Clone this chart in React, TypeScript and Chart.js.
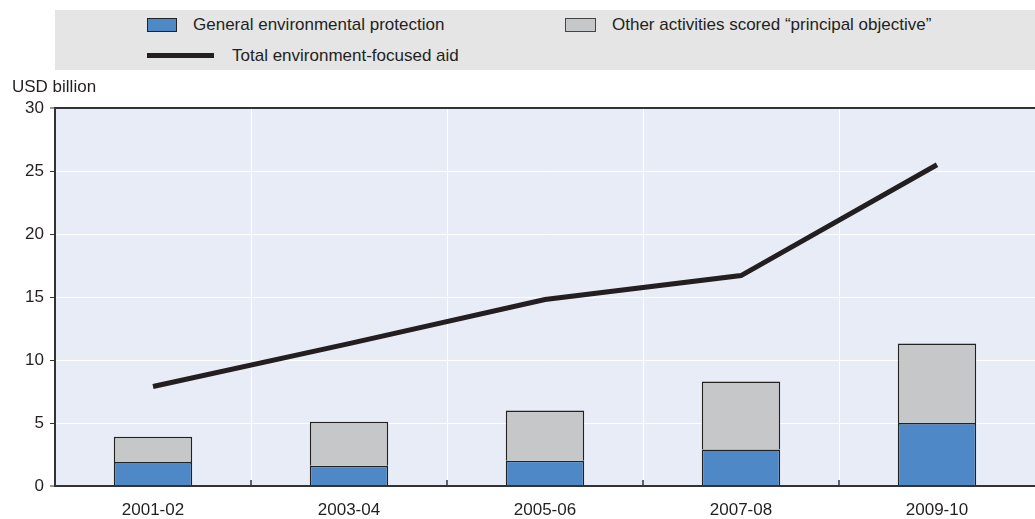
import React, { useEffect, useRef } from "react";
import { Chart, registerables } from "chart.js";

Chart.register(...registerables);

const categories = ["2001-02", "2003-04", "2005-06", "2007-08", "2009-10"];
const generalProtection = [1.9, 1.6, 2.0, 2.9, 5.0];
const otherPrincipal = [2.0, 3.5, 4.0, 5.4, 6.3];
const totalAid = [7.9, 11.3, 14.8, 16.7, 25.5];
const yMin = 0;
const yMax = 30;
const yStep = 5;

const labelGeneral = "General environmental protection";
const labelOther = "Other activities scored \u201cprincipal objective\u201d";
const labelTotal = "Total environment-focused aid";
const yTitle = "USD billion";

const FONT = "'Liberation Sans', Arial, sans-serif";
const TEXT = "#231f20";
const DARK = "#333333";
const BLUE = "#4e88c7";
const GREY = "#c6c7c9";
const PLOT_BG = "#e8ecf6";
const LEGEND_BG = "#e5e5e6";

const bgPlugin = {
  id: "plotBg",
  beforeDraw(chart: any) {
    const { ctx, chartArea } = chart;
    ctx.save();
    ctx.fillStyle = PLOT_BG;
    ctx.fillRect(chartArea.left, chartArea.top, chartArea.right - chartArea.left, chartArea.bottom - chartArea.top);
    ctx.restore();
  },
};

const innerTicksPlugin = {
  id: "innerTicks",
  afterDatasetsDraw(chart: any) {
    const { ctx, chartArea } = chart;
    const xs = chart.scales.x;
    ctx.save();
    ctx.strokeStyle = DARK;
    ctx.lineWidth = 1.5;
    for (let i = 1; i < categories.length; i++) {
      const x = (xs.getPixelForTick(i - 1) + xs.getPixelForTick(i)) / 2;
      ctx.beginPath();
      ctx.moveTo(x, chartArea.bottom - 6);
      ctx.lineTo(x, chartArea.bottom);
      ctx.stroke();
    }
    ctx.restore();
  },
};

export default function App() {
  const ref = useRef<HTMLCanvasElement>(null);

  useEffect(() => {
    document.body.style.margin = "0";
    const canvas = ref.current;
    if (!canvas) return;
    const chart = new Chart(canvas, {
      type: "bar",
      data: {
        labels: categories,
        datasets: [
          {
            type: "line",
            label: labelTotal,
            data: totalAid,
            borderColor: TEXT,
            backgroundColor: TEXT,
            borderWidth: 5,
            pointRadius: 0,
            tension: 0,
            borderCapStyle: "butt",
            stack: "line",
            order: 0,
          } as any,
          {
            type: "bar",
            label: labelGeneral,
            data: generalProtection,
            backgroundColor: BLUE,
            borderColor: "#222",
            borderWidth: 1.5,
            stack: "bars",
            barPercentage: 0.4,
            categoryPercentage: 1,
            order: 1,
          },
          {
            type: "bar",
            label: labelOther,
            data: otherPrincipal,
            backgroundColor: GREY,
            borderColor: "#222",
            borderWidth: 1.5,
            stack: "bars",
            barPercentage: 0.4,
            categoryPercentage: 1,
            order: 1,
          },
        ],
      },
      options: {
        responsive: false,
        animation: false,
        devicePixelRatio: 1,
        layout: { padding: { top: 108, left: 0, right: 0, bottom: 0 } },
        plugins: {
          legend: { display: false },
          tooltip: { enabled: false },
        },
        scales: {
          x: {
            stacked: true,
            offset: true,
            grid: {
              offset: true,
              color: (c: any) => (c.index === 0 ? DARK : "#ffffff"),
              lineWidth: 1,
              drawTicks: false,
            },
            border: { color: DARK, width: 2 },
            ticks: {
              color: TEXT,
              font: { family: FONT, size: 17 },
              padding: 14,
            },
            afterFit(scale: any) {
              scale.height = 33;
            },
          },
          y: {
            stacked: true,
            min: yMin,
            max: yMax,
            grid: {
              color: (c: any) =>
                c.tick && (c.tick.value === yMax || c.tick.value === yMin) ? DARK : "#ffffff",
              lineWidth: (c: any) =>
                c.tick && (c.tick.value === yMax || c.tick.value === yMin) ? 2 : 1,
              tickColor: DARK,
              tickLength: 5,
              tickWidth: 1,
            },
            border: { color: DARK, width: 2 },
            ticks: {
              stepSize: yStep,
              color: TEXT,
              font: { family: FONT, size: 17 },
              padding: 6,
            },
            afterFit(scale: any) {
              scale.width = 55;
            },
          },
        },
      },
      plugins: [bgPlugin, innerTicksPlugin],
    });
    return () => chart.destroy();
  }, []);

  const textStyle: React.CSSProperties = {
    position: "absolute",
    fontSize: 17,
    lineHeight: "20px",
    whiteSpace: "nowrap",
    color: TEXT,
  };

  return (
    <div style={{ position: "relative", width: 1035, height: 519, fontFamily: FONT, overflow: "hidden" }}>
      <canvas ref={ref} width={1035} height={519} style={{ position: "absolute", left: 0, top: 0 }} />
      <div style={{ position: "absolute", left: 55, top: 10, width: 980, height: 60, background: LEGEND_BG }} />
      <div style={{ position: "absolute", left: 147, top: 18, width: 28, height: 12, background: BLUE, border: "1.5px solid #222" }} />
      <div style={{ ...textStyle, left: 193, top: 15 }}>{labelGeneral}</div>
      <div style={{ position: "absolute", left: 565, top: 18, width: 29, height: 12, background: GREY, border: "1.5px solid #444" }} />
      <div style={{ ...textStyle, left: 612, top: 15 }}>{labelOther}</div>
      <div style={{ position: "absolute", left: 147, top: 53, width: 67, height: 5, background: TEXT }} />
      <div style={{ ...textStyle, left: 232, top: 46 }}>{labelTotal}</div>
      <div style={{ ...textStyle, left: 12, top: 77 }}>{yTitle}</div>
    </div>
  );
}
